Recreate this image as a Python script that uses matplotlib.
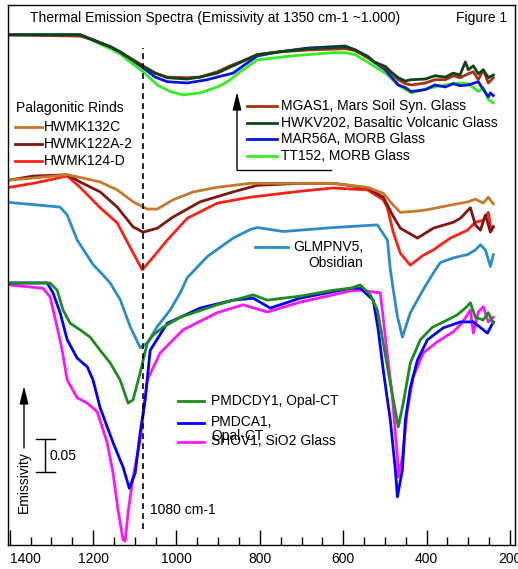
import matplotlib
matplotlib.use("Agg")
import matplotlib.pyplot as plt
from matplotlib.lines import Line2D
from matplotlib.ticker import MultipleLocator

plt.rcParams['font.family'] = ['Liberation Sans', 'DejaVu Sans']
plt.rcParams['font.size'] = 10

W, H = 518, 569

# --- top group: Mars / basaltic / MORB glasses (emissivity, 1350 cm-1 ~ 1.0)
mgas1_wn = [1400, 1231, 1207, 1183, 1159, 1135, 1111, 1080, 1051, 1022, 974, 943, 902, 875, 847, 806,
            756, 684, 595, 571, 540, 526, 499, 482, 468, 451, 437, 403, 380, 355, 336, 320, 300, 288,
            276, 264, 252, 240]
mgas1_e = [1.000, 0.998, 0.994, 0.988, 0.982, 0.974, 0.965, 0.953, 0.942, 0.936, 0.935, 0.936, 0.944,
           0.952, 0.959, 0.970, 0.974, 0.977, 0.979, 0.976, 0.965, 0.959, 0.950, 0.941, 0.932, 0.926,
           0.924, 0.927, 0.932, 0.932, 0.938, 0.935, 0.941, 0.944, 0.932, 0.947, 0.927, 0.935]

hwkv202_wn = [1400, 1231, 1207, 1183, 1159, 1135, 1111, 1080, 1051, 1022, 974, 943, 902, 875, 847, 806,
              756, 684, 595, 571, 540, 526, 499, 482, 468, 451, 437, 403, 380, 355, 336, 320, 307, 300,
              288, 276, 264, 252, 240]
hwkv202_e = [1.000, 1.000, 0.994, 0.988, 0.982, 0.974, 0.964, 0.952, 0.942, 0.935, 0.933, 0.936, 0.942,
             0.950, 0.958, 0.970, 0.974, 0.979, 0.982, 0.977, 0.967, 0.959, 0.952, 0.942, 0.935, 0.930,
             0.932, 0.933, 0.938, 0.936, 0.942, 0.939, 0.959, 0.947, 0.953, 0.941, 0.947, 0.935, 0.939]

mar56a_wn = [1400, 1231, 1207, 1183, 1159, 1135, 1111, 1080, 1051, 1022, 974, 926, 902, 864, 840, 806,
             756, 684, 595, 571, 540, 499, 468, 451, 437, 403, 380, 355, 336, 320, 300, 276, 264, 252,
             247, 240]
mar56a_e = [1.000, 1.000, 0.994, 0.988, 0.982, 0.974, 0.964, 0.950, 0.936, 0.929, 0.927, 0.932, 0.936,
            0.942, 0.953, 0.968, 0.974, 0.980, 0.983, 0.977, 0.965, 0.947, 0.924, 0.920, 0.914, 0.917,
            0.924, 0.921, 0.926, 0.923, 0.924, 0.929, 0.917, 0.906, 0.912, 0.908]

tt152_wn = [1400, 1231, 1207, 1183, 1159, 1135, 1111, 1080, 1046, 1015, 984, 943, 902, 875, 847, 806,
            725, 624, 595, 571, 540, 499, 468, 437, 389, 355, 324, 300, 276, 264, 252, 240]
tt152_e = [1.000, 1.000, 0.993, 0.986, 0.979, 0.971, 0.959, 0.944, 0.924, 0.914, 0.909, 0.912, 0.921,
           0.930, 0.944, 0.962, 0.968, 0.973, 0.973, 0.970, 0.958, 0.942, 0.924, 0.912, 0.920, 0.924,
           0.927, 0.926, 0.914, 0.920, 0.902, 0.897]

# --- palagonitic rinds
hwmk132c_wn = [1400, 1343, 1262, 1224, 1183, 1142, 1104, 1070, 1046, 1008, 960, 902, 823, 703, 624, 542,
               504, 480, 463, 422, 398, 343, 300, 283, 264, 252, 240]
hwmk132c_e = [0.997, 1.000, 1.005, 1.000, 0.994, 0.982, 0.964, 0.953, 0.953, 0.967, 0.979, 0.986, 0.992,
              0.992, 0.992, 0.986, 0.977, 0.959, 0.948, 0.950, 0.952, 0.959, 0.964, 0.968, 0.962, 0.971,
              0.961]

hwmk122a_wn = [1400, 1343, 1262, 1231, 1183, 1142, 1104, 1080, 1046, 1008, 943, 864, 806, 703, 624, 542,
               504, 480, 463, 422, 384, 336, 319, 295, 283, 271, 259, 247, 240]
hwmk122a_e = [0.997, 1.003, 1.005, 0.994, 0.979, 0.956, 0.926, 0.918, 0.924, 0.941, 0.964, 0.979, 0.989,
              0.992, 0.992, 0.985, 0.971, 0.942, 0.924, 0.909, 0.924, 0.933, 0.939, 0.955, 0.929, 0.921,
              0.944, 0.918, 0.926]

hwmk124d_wn = [1400, 1343, 1262, 1231, 1183, 1142, 1111, 1082, 1056, 1022, 974, 902, 823, 703, 624, 542,
               504, 494, 480, 463, 439, 408, 384, 343, 302, 283, 264, 252, 245, 240]
hwmk124d_e = [0.986, 0.992, 1.003, 0.986, 0.955, 0.932, 0.895, 0.861, 0.880, 0.906, 0.939, 0.962, 0.971,
              0.980, 0.985, 0.982, 0.967, 0.955, 0.918, 0.886, 0.868, 0.883, 0.891, 0.909, 0.921, 0.933,
              0.936, 0.948, 0.921, 0.926]

# --- obsidian
glmpnv5_wn = [1400, 1279, 1262, 1238, 1200, 1176, 1159, 1135, 1111, 1087, 1070, 1046, 1015, 991, 974, 926,
              864, 823, 806, 744, 624, 518, 494, 487, 480, 470, 458, 439, 408, 384, 367, 336, 302, 283,
              271, 259, 247, 240]
glmpnv5_e = [1.002, 0.995, 0.983, 0.945, 0.908, 0.892, 0.880, 0.855, 0.814, 0.782, 0.789, 0.814, 0.839,
             0.865, 0.888, 0.920, 0.948, 0.961, 0.964, 0.958, 0.964, 0.968, 0.945, 0.900, 0.870, 0.829,
             0.798, 0.835, 0.870, 0.895, 0.911, 0.918, 0.923, 0.930, 0.938, 0.930, 0.905, 0.923]

# --- opal / silica glass
pmdcdy1_wn = [1400, 1303, 1286, 1272, 1255, 1231, 1207, 1183, 1159, 1135, 1116, 1104, 1087, 1070, 1056,
              1032, 991, 902, 816, 782, 744, 703, 624, 583, 559, 535, 518, 504, 487, 468, 456, 439, 415,
              386, 350, 326, 307, 295, 283, 264, 252, 240]
pmdcdy1_e = [1.000, 1.000, 0.989, 0.959, 0.939, 0.929, 0.918, 0.898, 0.879, 0.853, 0.818, 0.823, 0.864,
             0.909, 0.921, 0.933, 0.948, 0.967, 0.982, 0.974, 0.977, 0.980, 0.989, 0.992, 0.997, 0.982,
             0.959, 0.909, 0.848, 0.782, 0.818, 0.879, 0.914, 0.933, 0.944, 0.952, 0.962, 0.970, 0.948,
             0.944, 0.955, 0.939]

pmdca1_wn = [1400, 1310, 1296, 1279, 1262, 1238, 1214, 1200, 1183, 1152, 1128, 1113, 1099, 1087, 1075,
             1063, 1022, 943, 864, 816, 775, 703, 583, 559, 528, 516, 504, 487, 475, 470, 458, 451, 439,
             422, 398, 360, 319, 288, 264, 254, 240]
pmdca1_e = [1.000, 1.000, 0.985, 0.955, 0.914, 0.886, 0.873, 0.853, 0.811, 0.758, 0.721, 0.689, 0.712,
            0.773, 0.823, 0.898, 0.939, 0.962, 0.974, 0.977, 0.962, 0.977, 0.992, 0.992, 0.974, 0.929,
            0.868, 0.792, 0.717, 0.676, 0.717, 0.792, 0.842, 0.883, 0.914, 0.932, 0.941, 0.941, 0.929,
            0.924, 0.941]

sio2_wn = [1400, 1320, 1303, 1286, 1274, 1262, 1238, 1214, 1190, 1166, 1152, 1140, 1128, 1123, 1116, 1104,
           1087, 1070, 1039, 984, 902, 840, 782, 703, 624, 583, 559, 511, 499, 482, 470, 468, 458, 446,
           432, 408, 374, 336, 320, 307, 295, 288, 276, 264, 252, 240]
sio2_e = [0.997, 0.992, 0.979, 0.933, 0.898, 0.853, 0.826, 0.818, 0.805, 0.758, 0.712, 0.656, 0.611,
          0.609, 0.652, 0.706, 0.762, 0.853, 0.894, 0.929, 0.955, 0.967, 0.956, 0.971, 0.982, 0.988,
          0.989, 0.985, 0.918, 0.827, 0.736, 0.706, 0.736, 0.808, 0.858, 0.894, 0.911, 0.926, 0.936,
          0.947, 0.959, 0.924, 0.956, 0.964, 0.941, 0.948]

# vertical offsets of each stack (emissivity units)
off_top = -0.227
off_rind = -0.444
off_obs = -0.483
off_opal = -0.603

curves = [
    (tt152_wn, tt152_e, off_top, '#33EE22'),
    (mar56a_wn, mar56a_e, off_top, '#0A14D8'),
    (mgas1_wn, mgas1_e, off_top, '#A8320C'),
    (hwkv202_wn, hwkv202_e, off_top, '#0C4418'),
    (hwmk124d_wn, hwmk124d_e, off_rind, '#FF2014'),
    (hwmk122a_wn, hwmk122a_e, off_rind, '#7E1810'),
    (hwmk132c_wn, hwmk132c_e, off_rind, '#C8782A'),
    (glmpnv5_wn, glmpnv5_e, off_obs, '#2A8CC8'),
    (sio2_wn, sio2_e, off_opal, '#FF14FF'),
    (pmdca1_wn, pmdca1_e, off_opal, '#0000FF'),
    (pmdcdy1_wn, pmdcdy1_e, off_opal, '#1C8C1C'),
]

fig = plt.figure(figsize=(W / 100, H / 100), dpi=100)
ax = fig.add_axes([8 / W, 1 - 545 / H, 507 / W, 540 / H])

for wn, e, off, col in curves:
    ax.plot(wn, [v + off for v in e], color=col, lw=2.0, solid_joinstyle='round')

ax.set_xlim(1404, 188)
ax.set_ylim(0, 540 / 660)
ax.set_yticks([])
ax.set_xticks(range(1400, 199, -200))
ax.xaxis.set_minor_locator(MultipleLocator(50))
ax.tick_params(axis='x', which='major', direction='in', length=11, width=1, pad=5, labelsize=10)
ax.tick_params(axis='x', which='minor', direction='in', length=6, width=1)
for s in ax.spines.values():
    s.set_linewidth(1.0)
ax.get_xticklabels()[0].set_ha('left')

ax.axvline(1080, ymin=0.03, ymax=0.92, color='black', lw=1.2, ls=(0, (3.5, 2.5)))


def fx(px):
    return px / W


def fy(py):
    return 1 - py / H


def seg(x0, y0, x1, y1, col='black', lw=1.0):
    fig.add_artist(Line2D([fx(x0), fx(x1)], [fy(y0), fy(y1)], color=col, lw=lw,
                          transform=fig.transFigure))


def label(px, py, s, **kw):
    fig.text(fx(px), fy(py), s, va='center', ha='left', fontsize=10, **kw)


def arrow_up(px, y_bottom, y_top):
    ax.annotate('', xy=(fx(px), fy(y_top)), xytext=(fx(px), fy(y_bottom)),
                xycoords='figure fraction', textcoords='figure fraction',
                arrowprops=dict(arrowstyle='-|>,head_width=0.22,head_length=0.9',
                                color='black', lw=1.0, shrinkA=0, shrinkB=0, mutation_scale=12))


label(30, 18, 'Thermal Emission Spectra (Emissivity at 1350 cm-1 ~1.000)')
label(456, 18, 'Figure 1')
label(150, 510, '1080 cm-1')

# palagonitic rinds legend
label(16, 108, 'Palagonitic Rinds')
for row, (name, col) in enumerate([('HWMK132C', '#C8782A'), ('HWMK122A-2', '#7E1810'),
                                   ('HWMK124-D', '#FF2014')]):
    yy = 127 + row * 17
    seg(15, yy, 42, yy, col, 2.0)
    label(44, yy, name)

# glass legend with L-shaped bracket
for row, (name, col) in enumerate([('MGAS1, Mars Soil Syn. Glass', '#A8320C'),
                                   ('HWKV202, Basaltic Volcanic Glass', '#0C4418'),
                                   ('MAR56A, MORB Glass', '#0A14D8'),
                                   ('TT152, MORB Glass', '#33EE22')]):
    yy = 106 + row * 16.5
    seg(247, yy, 277, yy, col, 2.0)
    label(281, yy, name)
arrow_up(237, 170, 92)
seg(237, 170, 331, 170)

# obsidian label
seg(255, 247, 288, 247, '#2A8CC8', 2.0)
fig.text(fx(293), fy(255), 'GLMPNV5,\nObsidian', va='center', ha='left', multialignment='right',
         fontsize=10, linespacing=1.15)

# opal legend
seg(178, 401, 204, 401, '#1C8C1C', 2.0)
label(211, 401, 'PMDCDY1, Opal-CT')
seg(178, 423, 204, 423, '#0000FF', 2.0)
label(211, 422, 'PMDCA1,')
label(211, 436, 'Opal-CT')
seg(178, 442, 204, 442, '#FF14FF', 2.0)
label(211, 441, 'SHOV1, SiO2 Glass')

# emissivity arrow and scale bar
arrow_up(24, 448, 386)
fig.text(fx(24), fy(482), 'Emissivity', rotation=90, va='center', ha='center', fontsize=10)
seg(45, 439, 45, 472)
seg(36, 439, 55, 439)
seg(36, 472, 55, 472)
label(50, 456, '0.05')

fig.savefig('out.png', dpi=100)
